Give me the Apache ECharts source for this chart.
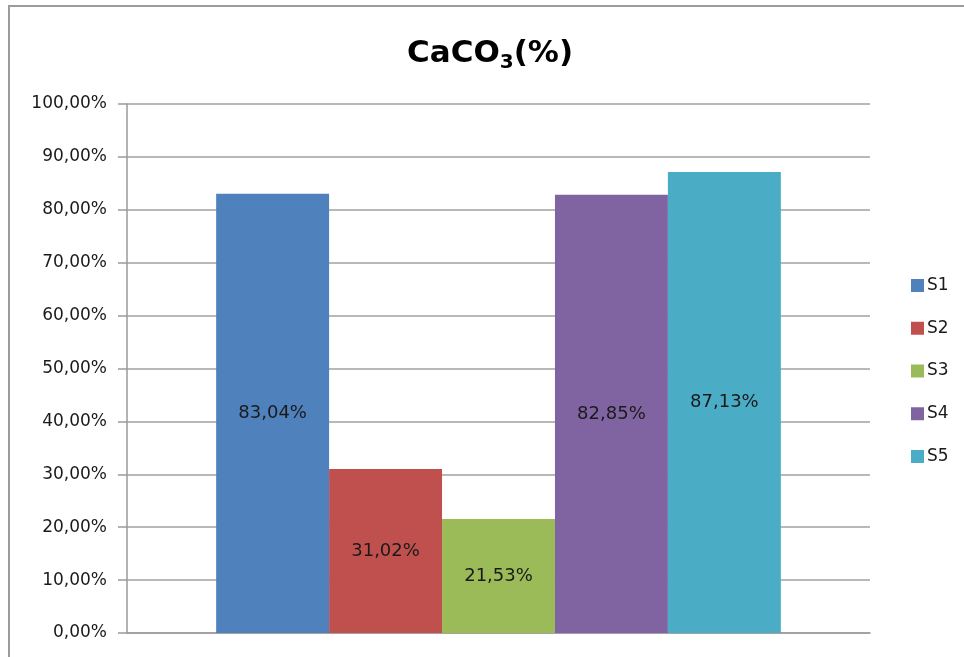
<!DOCTYPE html>
<html>
<head>
<meta charset="utf-8">
<script src="https://cdn.jsdelivr.net/npm/echarts@6/dist/echarts.min.js"></script>
<style>
  html, body { margin: 0; padding: 0; background: #fff; }
  #chart { width: 964px; height: 657px; }
</style>
</head>
<body>
<div id="chart"></div>
<script>
// Carbonate content per sample
const seriesNames = ['S1', 'S2', 'S3', 'S4', 'S5'];
const seriesValues = [83.04, 31.02, 21.53, 82.85, 87.13];
const seriesColors = ['#4F81BD', '#C0504D', '#9BBB59', '#8064A2', '#4BACC6'];
const categories = [''];
const yTicks = { min: 0, max: 100, interval: 10 };

const FONT = 'DejaVu Sans';
const fmtPct = v => v.toFixed(2).replace('.', ',') + '%';

const chart = echarts.init(document.getElementById('chart'), null, { renderer: 'canvas' });

const series = seriesNames.map((name, i) => ({
  name: name,
  type: 'bar',
  data: [seriesValues[i]],
  barGap: '0%',
  barCategoryGap: '24%',
  itemStyle: { color: seriesColors[i] },
  label: {
    show: true,
    position: 'inside',
    color: '#1a1a1a',
    fontFamily: FONT,
    fontSize: 18,
    formatter: p => fmtPct(p.value)
  }
}));

chart.setOption({
  animation: false,
  backgroundColor: '#fff',
  title: {
    text: '{a|CaCO}{s|3}{a|(%)}',
    left: 402,
    top: 30,
    textStyle: {
      rich: {
        a: { fontFamily: FONT, fontWeight: 'bold', fontSize: 31, lineHeight: 38, color: '#000' },
        s: { fontFamily: FONT, fontWeight: 'bold', fontSize: 20, lineHeight: 20, color: '#000', verticalAlign: 'bottom' }
      }
    }
  },
  legend: {
    orient: 'vertical',
    left: 906,
    top: 272,
    itemWidth: 13,
    itemHeight: 13,
    itemGap: 25.75,
    icon: 'rect',
    data: seriesNames,
    textStyle: { fontFamily: FONT, fontSize: 17, color: '#1a1a1a', padding: [0, 0, 0, -2] }
  },
  grid: { left: 127, right: 94, top: 104, bottom: 24, containLabel: false },
  xAxis: {
    type: 'category',
    data: categories,
    axisLine: { show: true, lineStyle: { color: '#9a9a9a', width: 1.5 } },
    axisTick: { show: false },
    axisLabel: { show: false },
    splitLine: { show: false }
  },
  yAxis: {
    type: 'value',
    min: yTicks.min,
    max: yTicks.max,
    interval: yTicks.interval,
    axisLine: { show: true, lineStyle: { color: '#9a9a9a', width: 1.5 } },
    axisTick: { show: true, inside: false, length: 9, lineStyle: { color: '#9a9a9a', width: 1.5 } },
    axisLabel: {
      fontFamily: FONT,
      fontSize: 17,
      color: '#1a1a1a',
      margin: 20,
      formatter: v => fmtPct(v)
    },
    splitLine: { show: true, lineStyle: { color: '#a0a0a0', width: 1.5 } }
  },
  graphic: [{
    type: 'rect',
    shape: { x: 9, y: 6, width: 1000, height: 700 },
    style: { fill: 'none', stroke: '#9c9c9c', lineWidth: 2 },
    silent: true,
    z: -1
  }],
  series: series
});
</script>
</body>
</html>
